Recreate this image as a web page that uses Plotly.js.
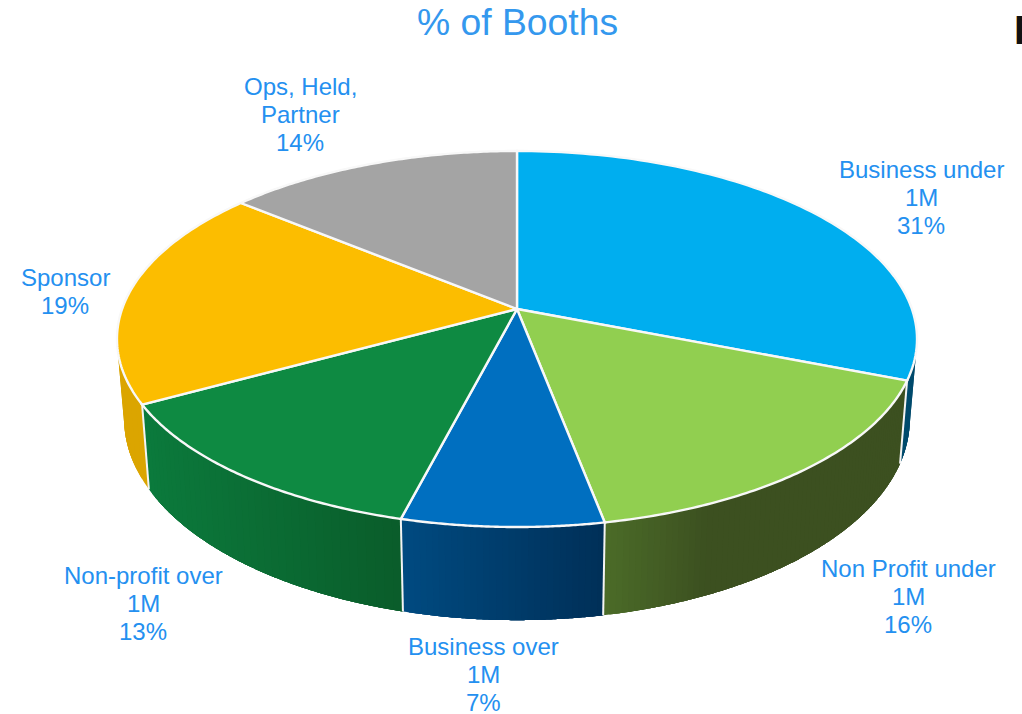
<!DOCTYPE html>
<html>
<head>
<meta charset="utf-8">
<script src="https://cdn.plot.ly/plotly-3.0.1.min.js"></script>
<style>html,body{margin:0;padding:0;background:#fff;overflow:hidden}#chart{width:1022px;height:714px}</style>
</head>
<body>
<div id="chart"></div>
<script>
// Data
var categories = ["Business under|1M", "Non Profit under|1M", "Business over|1M", "Non-profit over|1M", "Sponsor", "Ops, Held,|Partner"];
var values = [31, 16, 7, 13, 19, 14];
var chartTitle = "% of Booths";

// Styles
var topColors = ["#00aeef", "#91cf50", "#006fc0", "#0e8a42", "#fcbd00", "#a4a4a4"];
var wallStart = ["#005078", "#4b6b28", "#004a80", "#0b7a3c", "#dba500", "#7a7a7a"];
var wallEnd   = ["#004a6c", "#3c5020", "#002f57", "#0a5c2a", "#dba500", "#7a7a7a"];
var wallRamp  = [1, 3, 1, 1, 1, 1];
var wallSteps = [24, 72, 32, 40, 24, 24];
var labelX = [921, 908, 483, 143, 65, 300];
var labelY = [169, 568, 646, 575, 277, 86];

// Perspective projection of the pie disc onto the page
var view = {cx: 517, cy: 339, c: 394.9, a: 188, apex: 30, k: 0.1596,
            sx: 0.982, sy: 1.07, dropY: 80};
function project(frac) {
  var th = 2 * Math.PI * frac, u = Math.sin(th), v = Math.cos(th), d = 1 + view.k * v;
  return {x: view.cx + view.c * u / d, y: view.cy - (view.a * v + view.apex) / d};
}
function lower(p) {
  return {x: view.cx + view.sx * (p.x - view.cx), y: view.cy + view.dropY + view.sy * (p.y - view.cy)};
}
var apex = {x: view.cx, y: view.cy - view.apex};
function hex(c) { return [1, 3, 5].map(function (i) { return parseInt(c.substr(i, 2), 16); }); }
function mix(c1, c2, t) {
  var a = hex(c1), b = hex(c2);
  return "rgb(" + a.map(function (x, i) { return Math.round(x + (b[i] - x) * t); }).join(",") + ")";
}

var total = values.reduce(function (s, x) { return s + x; }, 0);
var edges = [0];
values.forEach(function (x) { edges.push(edges[edges.length - 1] + x / total); });

var traces = [];
function poly(pts, fill, lineColor, lineWidth) {
  traces.push({type: "scatter", mode: "lines", x: pts.map(function (p) { return p.x; }),
    y: pts.map(function (p) { return p.y; }), fill: "toself", fillcolor: fill,
    line: {color: lineColor, width: lineWidth, simplify: false}, hoverinfo: "skip", showlegend: false});
}
function arc(f0, f1, n) {
  var out = [];
  for (var s = 0; s <= n; s++) out.push(project(f0 + (f1 - f0) * s / n));
  return out;
}

// Side walls: painted as overlapping bands, so the shading has no gaps between steps.
// Each band starts on the page-left side of what remains and runs to the slice's far end.
values.forEach(function (val, i) {
  var steps = wallSteps[i], xa = project(edges[i]).x, xb = project(edges[i + 1]).x;
  var startAtEdge = xa < xb ? edges[i] : edges[i + 1];
  var endAtEdge = xa < xb ? edges[i + 1] : edges[i];
  for (var s = 0; s < steps; s++) {
    var f0 = startAtEdge + (endAtEdge - startAtEdge) * s / steps;
    var t = Math.min(1, Math.abs(project(f0).x - Math.min(xa, xb)) / Math.abs(xa - xb) * wallRamp[i]);
    var col = mix(wallStart[i], wallEnd[i], t);
    var top = arc(f0, Math.min(endAtEdge, f0 + (endAtEdge - startAtEdge) * 4 / steps), 12);
    if (endAtEdge < startAtEdge) top = arc(f0, Math.max(endAtEdge, f0 + (endAtEdge - startAtEdge) * 4 / steps), 12);
    var bottom = top.map(lower).reverse();
    poly(top.concat(bottom).concat([top[0]]), col, col, 0);
  }
});
// Seams on the wall
edges.slice(0, -1).forEach(function (f) {
  if (Math.cos(2 * Math.PI * f) < 0) {
    var p = project(f), q = lower(p);
    traces.push({type: "scatter", mode: "lines", x: [p.x, q.x], y: [p.y, q.y],
      line: {color: "#f4f4f4", width: 2}, hoverinfo: "skip", showlegend: false});
  }
});
// Top faces
values.forEach(function (val, i) {
  var pts = [apex].concat(arc(edges[i], edges[i + 1], 90)).concat([apex]);
  poly(pts, topColors[i], "#f8f8f8", 2.4);
});

// Labels, one annotation per line
var annotations = [];
var labelFont = {family: "Liberation Sans, Arial, sans-serif", size: 24, color: "#2490f0"};
categories.forEach(function (cat, i) {
  cat.split("|").concat([values[i] + "%"]).forEach(function (line, j) {
    annotations.push({xref: "x", yref: "y", x: labelX[i], y: labelY[i] + 28 * j, text: line,
      showarrow: false, xanchor: "center", yanchor: "middle", font: labelFont});
  });
});
// Clipped glyph at the top right edge of the source picture
annotations.push({xref: "x", yref: "y", x: 1012, y: 30, text: "<b>P</b>", showarrow: false,
  xanchor: "left", yanchor: "middle", font: {family: "Liberation Sans, Arial, sans-serif", size: 40, color: "#111111"}});

Plotly.newPlot("chart", traces, {
  width: 1022, height: 714, margin: {l: 0, r: 0, t: 0, b: 0}, showlegend: false,
  paper_bgcolor: "#ffffff", plot_bgcolor: "#ffffff", hovermode: false,
  title: {text: chartTitle, x: 517.5 / 1022, xref: "paper", xanchor: "center", y: 1 - 22 / 714, yref: "paper", yanchor: "middle",
    font: {family: "Liberation Sans, Arial, sans-serif", size: 37.3, color: "#3498ee"}},
  xaxis: {range: [0, 1022], visible: false, fixedrange: true},
  yaxis: {range: [714, 0], visible: false, fixedrange: true},
  annotations: annotations
}, {displayModeBar: false, staticPlot: true});
</script>
</body>
</html>
